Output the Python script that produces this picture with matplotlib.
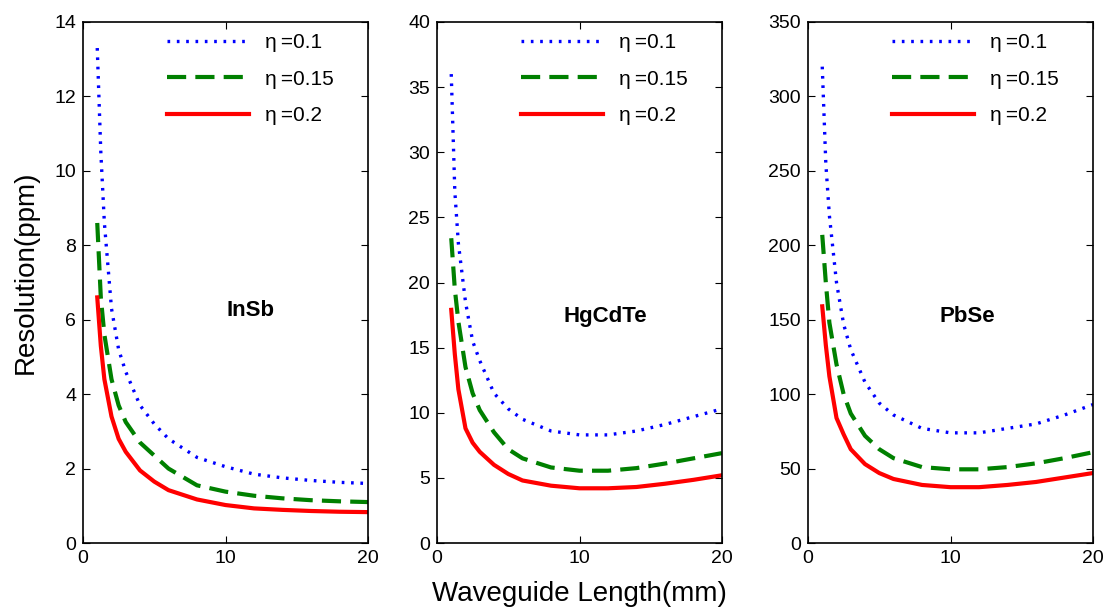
import matplotlib
matplotlib.use('Agg')
import matplotlib.pyplot as plt

plt.rcParams['font.family'] = ['Liberation Sans', 'DejaVu Sans']

# waveguide length (mm)
length = [1, 1.25, 1.5, 2, 2.5, 3, 4, 5, 6, 8, 10, 12, 14, 16, 18, 20]

# InSb resolution (ppm)
insb_01 = [13.3, 10.5, 8.6, 6.3, 5.2, 4.6, 3.7, 3.2, 2.8, 2.3, 2.05, 1.85, 1.75, 1.68, 1.63, 1.6]
insb_015 = [8.6, 6.6, 5.6, 4.4, 3.7, 3.25, 2.7, 2.35, 2.0, 1.55, 1.38, 1.27, 1.2, 1.15, 1.12, 1.1]
insb_02 = [6.6, 5.3, 4.4, 3.4, 2.8, 2.45, 1.95, 1.65, 1.42, 1.17, 1.02, 0.93, 0.89, 0.86, 0.84, 0.83]

# HgCdTe resolution (ppm)
hgcdte_01 = [36, 27, 23, 18.5, 15.5, 14.0, 11.5, 10.3, 9.5, 8.6, 8.3, 8.3, 8.6, 9.1, 9.7, 10.3]
hgcdte_015 = [23.4, 19.5, 17, 13.5, 11.5, 10.2, 8.5, 7.2, 6.5, 5.8, 5.55, 5.55, 5.75, 6.1, 6.5, 6.9]
hgcdte_02 = [17.9, 14.5, 11.8, 8.8, 7.7, 7.0, 6.0, 5.3, 4.8, 4.4, 4.2, 4.2, 4.3, 4.55, 4.85, 5.2]

# PbSe resolution (ppm)
pbse_01 = [320, 255, 220, 175, 147, 130, 108, 94, 86, 77, 74, 74, 77, 80, 86, 93]
pbse_015 = [207, 175, 148, 120, 100, 87, 72, 63, 57, 51, 49.5, 49.5, 51, 53.5, 57, 61]
pbse_02 = [159, 133, 112, 84, 73, 63, 53, 47, 43, 39, 37.5, 37.5, 39, 41, 44, 47]

eta_labels = ['\u03b7\u2009=0.1', '\u03b7\u2009=0.15', '\u03b7\u2009=0.2']
materials = ['InSb', 'HgCdTe', 'PbSe']
ylims = [14, 40, 350]
ysteps = [2, 5, 50]

panels = [
    [insb_01, insb_015, insb_02],
    [hgcdte_01, hgcdte_015, hgcdte_02],
    [pbse_01, pbse_015, pbse_02],
]

fig = plt.figure(figsize=(11.04, 6.10), dpi=100)
lefts = [83 / 1104, 437 / 1104, 808 / 1104]
width = 285 / 1104
bottom = 1 - 543 / 610
height = 521 / 610

label_pos = [(0.586, 0.447), (0.59, 0.434), (0.56, 0.434)]

for i, (series, name) in enumerate(zip(panels, materials)):
    ax = fig.add_axes([lefts[i], bottom, width, height])
    ax.plot(length, series[0], color='#0000ff', linestyle=(0, (0.8, 2.0)), lw=2.4, label=eta_labels[0])
    ax.plot(length, series[1], color='#008000', linestyle=(0, (4.6, 2.2)), lw=3, label=eta_labels[1])
    ax.plot(length, series[2], color='#ff0000', linestyle='-', lw=3, label=eta_labels[2])

    ax.set_xlim(0, 20)
    ax.set_ylim(0, ylims[i])
    ax.set_xticks([0, 10, 20])
    ax.set_yticks(range(0, ylims[i] + 1, ysteps[i]))
    ax.tick_params(direction='in', top=True, right=True, labelsize=14, length=5, pad=5)
    for sp in ax.spines.values():
        sp.set_linewidth(1.2)

    ax.text(label_pos[i][0], label_pos[i][1], name, transform=ax.transAxes,
            ha='center', va='center', fontsize=16, fontweight='bold')

    ax.legend(loc='upper left', bbox_to_anchor=(0.23, 1.015), frameon=False,
              fontsize=15, handlelength=3.9, handletextpad=0.8, labelspacing=0.85)

    if i == 0:
        ax.set_ylabel('Resolution(ppm)', fontsize=20)
        ax.yaxis.set_label_coords(-0.155, 0.52)
    if i == 1:
        ax.set_xlabel('Waveguide Length(mm)', fontsize=20, labelpad=10)

fig.savefig('out.png', dpi=100)
